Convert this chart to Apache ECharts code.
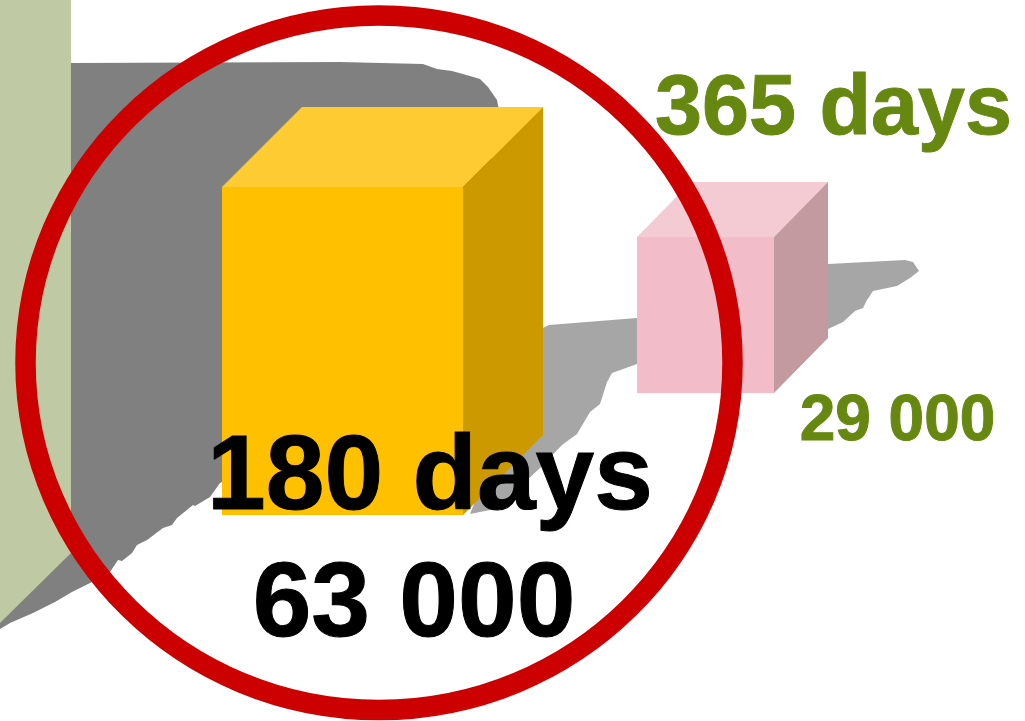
<!DOCTYPE html>
<html>
<head>
<meta charset="utf-8">
<style>html,body{margin:0;padding:0;background:#fff}#c{width:1025px;height:721px}</style>
<script src="https://cdn.jsdelivr.net/npm/echarts@6/dist/echarts.min.js"></script>
</head>
<body>
<div id="c"></div>
<script>
var categories = ['180 days', '365 days'];
var seriesValues = [63000, 29000];

var boxLeft = [222, 637];
var boxRight = [463, 774];
var boxTop = [187, 237];
var boxBottom = [515, 393];
var boxDepthX = [80, 54];
var boxDepthY = [80, 55];

var wallOutline = [[0, 0], [71, 0], [71, 553], [0, 623]];
var darkShadow = [[71, 63], [340, 62], [423, 64], [437, 69], [452, 71], [470, 76], [480, 79], [488, 87], [497, 100], [499, 110], [470, 300], [222, 482], [220, 483], [210, 497], [195, 506], [193, 505], [177, 518], [172, 525], [163, 528], [147, 540], [137, 545], [132, 553], [122, 561], [118, 560], [110, 572], [90, 583], [72, 592], [55, 602], [33, 613], [10, 623], [0, 629], [0, 300], [71, 300]];
var lightShadow = [[543, 328], [549, 325], [637, 318], [828, 264], [905, 260], [913, 262], [919, 271], [910, 278], [897, 286], [873, 291], [867, 300], [863, 308], [855, 311], [843, 322], [828, 329], [700, 340], [637, 364], [612, 373], [607, 382], [600, 404], [590, 412], [577, 434], [562, 445], [540, 468], [510, 496], [490, 510], [470, 514], [500, 440]];
var ringCentre = [379, 362.75];
var ringRadiusX = 353.5;
var ringRadiusY = 347.25;

var boxColors = [
  {front: '#FFC000', top: '#FFCB33', side: '#CC9A00'},
  {front: '#F2BDC8', top: '#F5CBD3', side: '#C29AA0'}
];
var labelStyles = [
  {nameX: 430, nameY: 510, nameSize: 105.5, nameColor: '#000000', valX: 414, valY: 637, valSize: 105.5, valColor: '#000000'},
  {nameX: 833.5, nameY: 135, nameSize: 84.5, nameColor: '#668811', valX: 897.5, valY: 441, valSize: 64, valColor: '#668811'}
];

function fmt(v) {
  return String(v).replace(/\B(?=(\d{3})+$)/g, ' ');
}
function poly(api, pts, fill) {
  return {
    type: 'polygon',
    shape: {points: pts.map(function (p) { return api.coord(p); })},
    style: {fill: fill}
  };
}
function single(name, z, render) {
  return {
    type: 'custom', name: name, coordinateSystem: 'cartesian2d', silent: true,
    clip: false, z: z, animation: false, data: [[0, 0]], renderItem: render
  };
}
function boxItem(params, api) {
  var i = params.dataIndex;
  var l = boxLeft[i], r = boxRight[i], t = boxTop[i], b = boxBottom[i], dx = boxDepthX[i], dy = boxDepthY[i];
  var c = boxColors[i];
  return {
    type: 'group',
    children: [
      poly(api, [[l, t], [r, t], [r, b], [l, b]], c.front),
      poly(api, [[l, t], [l + dx, t - dy], [r + dx, t - dy], [r, t]], c.top),
      poly(api, [[r, t], [r + dx, t - dy], [r + dx, b - dy], [r, b]], c.side)
    ]
  };
}
function textEl(api, str, x, y, size, color) {
  var p = api.coord([x, y]);
  return {
    type: 'text',
    style: {
      text: str, x: p[0], y: p[1] - 0.79 * size, align: 'center', verticalAlign: 'top',
      font: 'bold ' + size + 'px "Liberation Sans", Arial, sans-serif', fill: color,
      stroke: color, lineWidth: 1
    }
  };
}
function labelItem(params, api) {
  var i = params.dataIndex, s = labelStyles[i];
  return {
    type: 'group',
    children: [
      textEl(api, categories[i], s.nameX, s.nameY, s.nameSize, s.nameColor),
      textEl(api, fmt(seriesValues[i]), s.valX, s.valY, s.valSize, s.valColor)
    ]
  };
}

var chart = echarts.init(document.getElementById('c'), null, {renderer: 'canvas'});
chart.setOption({
  animation: false,
  backgroundColor: '#ffffff',
  grid: {left: 0, right: 0, top: 0, bottom: 0, containLabel: false},
  xAxis: {type: 'value', min: 0, max: 1025, show: false},
  yAxis: {type: 'value', min: 0, max: 721, inverse: true, show: false},
  tooltip: {show: false},
  series: [
    single('shadow', 1, function (params, api) {
      return {type: 'group', children: [
        poly(api, lightShadow, '#A6A6A6'),
        poly(api, darkShadow, '#808080')
      ]};
    }),
    single('wall', 2, function (params, api) {
      return poly(api, wallOutline, '#BFC9A3');
    }),
    {
      type: 'custom', name: 'boxes', coordinateSystem: 'cartesian2d', silent: true, clip: false, z: 3,
      data: categories.map(function (c, i) { return [boxLeft[i], boxBottom[i], seriesValues[i]]; }),
      renderItem: boxItem
    },
    single('ring', 4, function (params, api) {
      var c = api.coord(ringCentre);
      return {
        type: 'ellipse',
        shape: {cx: c[0], cy: c[1], rx: ringRadiusX, ry: ringRadiusY},
        style: {fill: 'none', stroke: '#CC0000', lineWidth: 20.5}
      };
    }),
    {
      type: 'custom', name: 'labels', coordinateSystem: 'cartesian2d', silent: true, clip: false, z: 5,
      data: categories.map(function (c, i) { return [labelStyles[i].nameX, labelStyles[i].nameY]; }),
      renderItem: labelItem
    }
  ]
});
</script>
</body>
</html>
